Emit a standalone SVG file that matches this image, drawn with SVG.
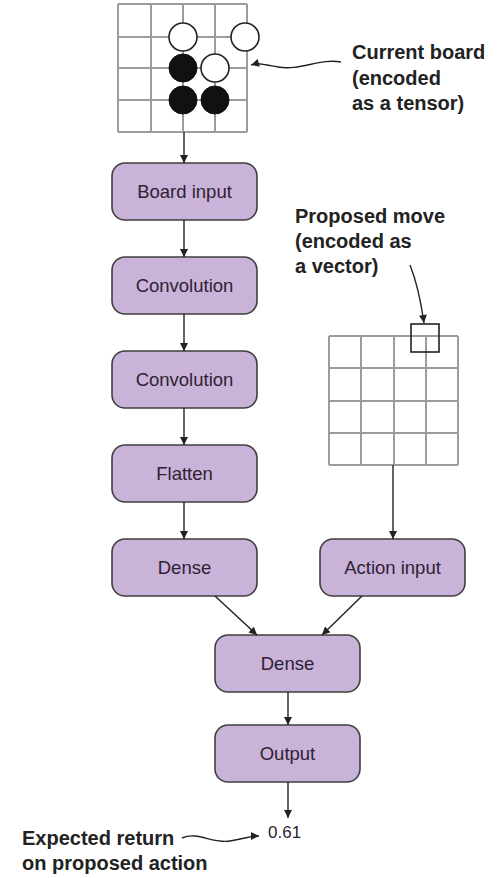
<svg xmlns="http://www.w3.org/2000/svg" width="497" height="878" viewBox="0 0 497 878">
<defs>
<marker id="ah" viewBox="0 0 10 10" refX="10" refY="5" markerWidth="9" markerHeight="8" markerUnits="userSpaceOnUse" orient="auto">
<path d="M0,0 L10,5 L0,10 z" fill="#222"/>
</marker>
<style>
.grid{stroke:#9c9c9c;stroke-width:2;fill:none}
.node rect{fill:#c9b3d9;stroke:#3f3f3f;stroke-width:1.6}
.node text{font-family:"Liberation Sans",Arial,sans-serif;font-size:18.5px;fill:#2e2233;text-anchor:middle}
.conn{stroke:#222;stroke-width:1.4;fill:none;marker-end:url(#ah)}
.ann{font-family:"Liberation Sans",Arial,sans-serif;font-size:20px;font-weight:bold;fill:#222}
.white{fill:#fff;stroke:#222;stroke-width:1.6}
.black{fill:#111;stroke:#111;stroke-width:1}
</style>
</defs>
<rect width="497" height="878" fill="#fff"/>
<g id="board">
<path class="grid" d="M118,4 H247 M118,37 H247 M118,68 H247 M118,100 H247 M118,132 H247 M118,4 V132 M151,4 V132 M183,4 V132 M215,4 V132 M247,4 V132"/>
<circle class="white" cx="183" cy="37" r="14"/>
<circle class="white" cx="245" cy="37" r="14"/>
<circle class="white" cx="215" cy="68" r="14"/>
<circle class="black" cx="183" cy="68" r="14"/>
<circle class="black" cx="183" cy="100" r="14"/>
<circle class="black" cx="215" cy="100" r="14"/>
</g>
<g id="action-grid">
<path class="grid" d="M329,336 H458 M329,368 H458 M329,401 H458 M329,433 H458 M329,465 H458 M329,336 V465 M361,336 V465 M394,336 V465 M426,336 V465 M458,336 V465"/>
<rect x="411" y="324" width="28" height="28" fill="none" stroke="#222" stroke-width="1.6"/>
</g>
<g id="label-current">
<text class="ann" x="352" y="59">Current board</text>
<text class="ann" x="352" y="85">(encoded</text>
<text class="ann" x="352" y="110">as a tensor)</text>
</g>
<g id="label-proposed">
<text class="ann" x="295" y="223">Proposed move</text>
<text class="ann" x="295" y="248">(encoded as</text>
<text class="ann" x="295" y="273">a vector)</text>
</g>
<g id="label-expected">
<text class="ann" x="22" y="845">Expected return</text>
<text class="ann" x="22" y="870">on proposed action</text>
</g>
<g id="n-board-input" class="node"><rect x="112" y="163" width="145" height="57" rx="13"/><text x="184.5" y="198">Board input</text></g>
<g id="n-conv1" class="node"><rect x="112" y="257" width="145" height="57" rx="13"/><text x="184.5" y="292">Convolution</text></g>
<g id="n-conv2" class="node"><rect x="112" y="351" width="145" height="57" rx="13"/><text x="184.5" y="386">Convolution</text></g>
<g id="n-flatten" class="node"><rect x="112" y="445" width="145" height="57" rx="13"/><text x="184.5" y="480">Flatten</text></g>
<g id="n-dense1" class="node"><rect x="112" y="539" width="145" height="57" rx="13"/><text x="184.5" y="574">Dense</text></g>
<g id="n-action-input" class="node"><rect x="320" y="539" width="145" height="57" rx="13"/><text x="392.5" y="574">Action input</text></g>
<g id="n-dense2" class="node"><rect x="215" y="635" width="145" height="57" rx="13"/><text x="287.5" y="670">Dense</text></g>
<g id="n-output" class="node"><rect x="215" y="725" width="145" height="57" rx="13"/><text x="287.5" y="760">Output</text></g>
<g id="value"><text x="268" y="838" font-family="'Liberation Sans',Arial,sans-serif" font-size="17" fill="#2e2233">0.61</text></g>
<g id="connectors">
<path class="conn" d="M184,132 V163"/>
<path class="conn" d="M184,220 V257"/>
<path class="conn" d="M184,314 V351"/>
<path class="conn" d="M184,408 V445"/>
<path class="conn" d="M184,502 V539"/>
<path class="conn" d="M393,465 V539"/>
<path class="conn" d="M215,596 L257,635"/>
<path class="conn" d="M362,596 L322,635"/>
<path class="conn" d="M288,692 V725"/>
<path class="conn" d="M288,782 V818"/>
<path class="conn" stroke-width="1.2" d="M341,62 C320,58 300,71 278,67 S258,63 251,65"/>
<path class="conn" stroke-width="1.2" d="M410,265 C418,285 421,302 424,323"/>
<path class="conn" stroke-width="1.2" d="M182,838 C198,831 212,844 230,841 S250,836 259,836"/>
</g>
</svg>
